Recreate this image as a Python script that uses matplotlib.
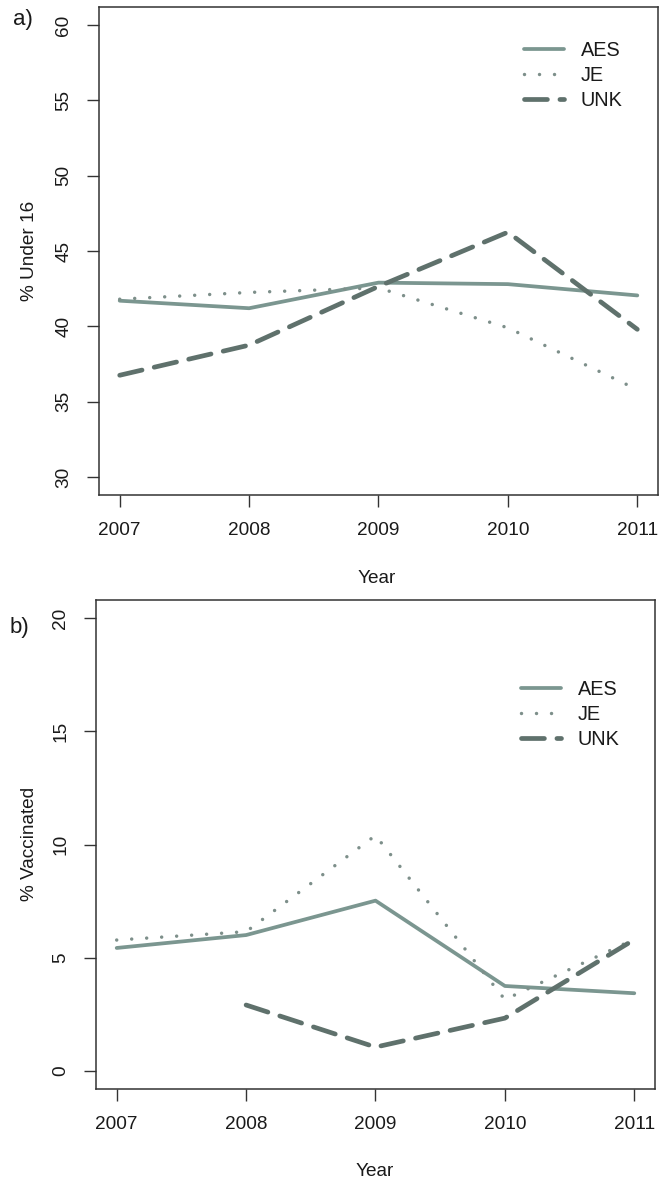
import matplotlib
matplotlib.use('Agg')
import matplotlib.pyplot as plt
import numpy as np

plt.rcParams['font.family'] = ['Liberation Sans', 'DejaVu Sans']
plt.rcParams['lines.scale_dashes'] = False

years = [2007, 2008, 2009, 2010, 2011]

# panel a) % under 16
under16_aes = [41.7, 41.2, 42.9, 42.8, 42.05]
under16_je = [41.8, 42.25, 42.55, 39.9, 35.8]
under16_unk = [36.75, 38.75, 42.65, 46.25, 39.8]

# panel b) % vaccinated (no UNK value for 2007)
vacc_aes = [5.43, 6.0, 7.52, 3.75, 3.43]
vacc_je = [5.78, 6.15, 10.4, 3.15, 5.82]
vacc_unk = [np.nan, 2.91, 1.05, 2.33, 5.8]

series_names = ['AES', 'JE', 'UNK']

W, H = 666, 1185
fig = plt.figure(figsize=(W / 100, H / 100), dpi=100)

c_aes = '#7b9690'
c_je = '#7d8f8a'
c_unk = '#5f716c'
txt = '#1a1a1a'
fs = 13.7


def px_axes(l, t, r, b):
    return fig.add_axes([l / W, (H - b) / H, (r - l) / W, (b - t) / H])


def draw_panel(ax, aes, je, unk, ylo, yhi, yticks, leg_xy):
    ax.plot(years, aes, color=c_aes, lw=2.7, solid_capstyle='round', label=series_names[0])
    ax.plot(years, je, color=c_je, lw=2.5, linestyle=(0, (0.01, 10.8)),
            dash_capstyle='round', label=series_names[1])
    ax.plot(years, unk, color=c_unk, lw=3.4, linestyle=(0, (16.5, 9.0)),
            dash_capstyle='round', label=series_names[2])
    pad = 0.04 * (yhi - ylo)
    ax.set_ylim(ylo - pad, yhi + pad)
    ax.set_xlim(2007 - 0.16, 2011 + 0.16)
    ax.set_xticks(years)
    ax.set_yticks(yticks)
    ax.set_yticklabels([str(v) for v in yticks], rotation=90, va='center')
    ax.tick_params(direction='out', length=8.6, width=1.0, color='#333333',
                   labelsize=fs, labelcolor=txt, pad=10.5)
    for s in ax.spines.values():
        s.set_color('#333333')
        s.set_linewidth(1.1)
    ax.legend(loc='upper left', bbox_to_anchor=(leg_xy[0] / W, 1 - leg_xy[1] / H),
              bbox_transform=fig.transFigure, frameon=False, fontsize=14.3,
              handlelength=2.0, handletextpad=0.85, labelspacing=0.3,
              borderpad=0, borderaxespad=0, labelcolor=txt)


ax1 = px_axes(99, 7, 658, 495)
draw_panel(ax1, under16_aes, under16_je, under16_unk, 30, 60, [30, 35, 40, 45, 50, 55, 60], (524, 41))
fig.text(30 / W, 1 - 251 / H, '% Under 16', rotation=90, ha='center', va='center', fontsize=fs, color=txt)
fig.text(377 / W, 1 - 578 / H, 'Year', ha='center', va='center', fontsize=fs, color=txt)
fig.text(23 / W, 1 - 19 / H, 'a)', ha='center', va='center', fontsize=16, color=txt)

ax2 = px_axes(96, 600, 655, 1089)
draw_panel(ax2, vacc_aes, vacc_je, vacc_unk, 0, 20, [0, 5, 10, 15, 20], (521, 680))
fig.text(30 / W, 1 - 844 / H, '% Vaccinated', rotation=90, ha='center', va='center', fontsize=fs, color=txt)
fig.text(375 / W, 1 - 1172 / H, 'Year', ha='center', va='center', fontsize=fs, color=txt)
fig.text(19 / W, 1 - 628 / H, 'b)', ha='center', va='center', fontsize=16, color=txt)

fig.savefig('out.png', dpi=100)
